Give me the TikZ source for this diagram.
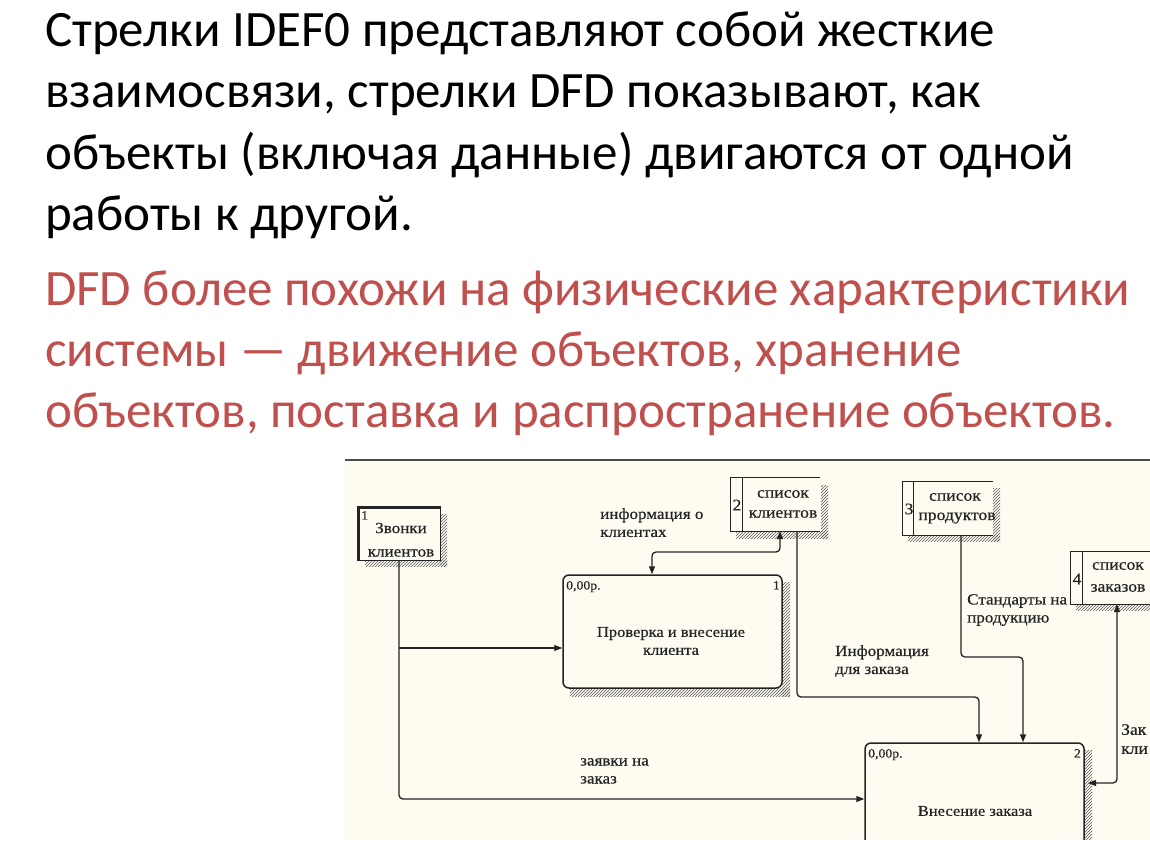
\documentclass[tikz,border=0pt]{standalone}
\usepackage{fontspec}
\setmainfont{Carlito}
\newfontfamily\dgm[FakeStretch=1.1,FakeBold=0.5]{Liberation Serif}
\usetikzlibrary{arrows.meta,patterns}
\definecolor{redtxt}{RGB}{192,80,77}
\definecolor{cream}{RGB}{254,251,241}
\definecolor{ink}{RGB}{35,35,35}
\tikzset{
  blackline/.style={anchor=base west, inner sep=0pt, font=\fontsize{51}{60}\selectfont, text=black},
  redline/.style={anchor=base west, inner sep=0pt, font=\fontsize{51}{60}\selectfont, text=redtxt},
  shade/.style={pattern=north east lines, pattern color=black!65},
  boxline/.style={draw=ink, line width=1.3pt},
  proc/.style={draw=ink, line width=1.5pt, rounded corners=6pt, fill=cream, inner sep=0pt},
  hold/.style={inner sep=0pt, minimum width=0pt, minimum height=0pt},
  dtext/.style={font=\dgm\fontsize{15.5}{18}\selectfont, text=ink, inner sep=0pt},
  stxt/.style={font=\dgm\fontsize{16}{18}\selectfont, text=ink, inner sep=0pt},
  small/.style={font=\dgm\fontsize{12.5}{14}\selectfont, text=ink, inner sep=0pt},
  lbl/.style={font=\dgm\fontsize{15.5}{18}\selectfont, text=ink, inner sep=0pt, align=left, anchor=north west},
  flow/.style={draw=ink, line width=1.3pt, rounded corners=4pt},
  tip/.style={-{Triangle[length=8pt,width=6pt]}},
  twotip/.style={{Triangle[length=8pt,width=6pt]}-{Triangle[length=8pt,width=6pt]}}
}
\begin{document}
\begin{tikzpicture}[x=1pt,y=-1pt]
\useasboundingbox (0,0) rectangle (1150,864);
\fill[white] (0,0) rectangle (1150,864);

% --- text ---
\node[blackline] (t1) at (45,47) {Стрелки IDEF0 представляют собой жесткие};
\node[blackline] (t2) at (45,108) {взаимосвязи, стрелки DFD показывают, как};
\node[blackline] (t3) at (45,169) {объекты (включая данные) двигаются от одной};
\node[blackline] (t4) at (45,230) {работы к другой.};
\node[redline] (r1) at (45,305) {DFD более похожи на физические характеристики};
\node[redline] (r2) at (45,366) {системы — движение объектов, хранение};
\node[redline] (r3) at (45,427) {объектов, поставка и распространение объектов.};

% --- diagram background ---
\fill[cream] (345,461) rectangle (1150,839);
\draw[draw=black!70, line width=2.2pt] (345,460) -- (1150,460);

\begin{scope}
\clip (345,461) rectangle (1150,839);

% external entity 1
\fill[shade] (440,514) rectangle (447,566);
\fill[shade] (365,560) rectangle (447,566);
\node[hold, fill=cream, draw=ink, line width=1pt, minimum width=81pt, minimum height=52pt] (e1) at (399.5,534) {};
\draw[ink, line width=3.2pt] (e1.south west) -- (e1.north west) -- (e1.north east);
\node[small, anchor=north west] (e1n) at (361,511) {1};
\node[dtext] (e1a) at (401,528) {Звонки};
\node[dtext] (e1b) at (401,553) {клиентов};

% data store 2
\fill[shade] (821,485) rectangle (828,538);
\fill[shade] (736,531) rectangle (828,538);
\node[hold, minimum width=89pt, minimum height=53pt] (s2) at (775.5,504.5) {};
\draw[boxline] (s2.north east) -- (s2.north west) -- (s2.south west) -- (s2.south east);
\draw[boxline] ([xshift=12pt]s2.north west) -- ([xshift=12pt]s2.south west);
\node[stxt] (s2n) at (737,505) {2};
\node[stxt] (s2a) at (783,494) {список};
\node[stxt] (s2b) at (783,514) {клиентов};

% data store 3
\fill[shade] (993,488) rectangle (1000,541);
\fill[shade] (908,535) rectangle (1000,541);
\node[hold, minimum width=90pt, minimum height=53pt] (s3) at (948,508.5) {};
\draw[boxline] (s3.north east) -- (s3.north west) -- (s3.south west) -- (s3.south east);
\draw[boxline] ([xshift=11pt]s3.north west) -- ([xshift=11pt]s3.south west);
\node[stxt] (s3n) at (909,509) {3};
\node[stxt] (s3a) at (955,497) {список};
\node[stxt] (s3b) at (957,518) {продуктов};

% data store 4
\fill[shade] (1076,604) rectangle (1150,610);
\node[hold, minimum width=90pt, minimum height=52pt] (s4) at (1116,578) {};
\draw[boxline] (s4.north east) -- (s4.north west) -- (s4.south west) -- (s4.south east);
\draw[boxline] ([xshift=12pt]s4.north west) -- ([xshift=12pt]s4.south west);
\node[stxt] (s4n) at (1077,579) {4};
\node[stxt] (s4a) at (1118,566) {список};
\node[stxt] (s4b) at (1118,588) {заказов};

% process 1
\fill[shade] (782,582) rectangle (790,696);
\fill[shade] (570,688) rectangle (790,696);
\node[proc, minimum width=219pt, minimum height=113pt] (p1) at (672.5,631.5) {};
\node[small, anchor=north west] (p1c) at (566,581) {0,00р.};
\node[small, anchor=north east] (p1n) at (780,581) {1};
\node[dtext, align=center, font=\dgm\fontsize{15}{18}\selectfont] (p1t) at (671,641) {Проверка и внесение\\клиента};

% process 2
\fill[shade] (1084,750) rectangle (1092,845);
\node[proc, minimum width=219pt, minimum height=160pt] (p2) at (974.5,823) {};
\node[small, anchor=north west] (p2c) at (868,749) {0,00р.};
\node[small, anchor=north east] (p2n) at (1081,749) {2};
\node[dtext, font=\dgm\fontsize{15}{18}\selectfont] (p2t) at (975,811) {Внесение заказа};

% --- flows ---
\coordinate (j1) at (399,648);
\draw[flow, tip] (e1.south -| j1) -- (399,799) -- (p2.west |- 0,799);
\draw[flow, tip] (j1) -- (p1.west |- j1);
\draw[flow, twotip] (780,531) -- (780,552) -- (652,552) -- (p1.north -| 652,0);
\draw[flow, tip] (797,531) -- (797,697) -- (979,697) -- (p2.north -| 979,0);
\draw[flow, tip] (961,535) -- (961,657) -- (1023,657) -- (p2.north -| 1023,0);
\draw[flow, twotip] (1088,783) -- (1117,783) -- (s4.south -| 1117,0);

% --- flow labels ---
\node[lbl] (l1) at (600,508) {информация о\\клиентах};
\node[lbl] (l2) at (835,645) {Информация\\для заказа};
\node[lbl] (l3) at (967,594) {Стандарты на\\продукцию};
\node[lbl] (l4) at (580,758) {заявки на\\заказ};
\node[lbl, font=\dgm\fontsize{16}{19}\selectfont] (l5) at (1121,724) {Зак\\кли};
\end{scope}
\end{tikzpicture}
\end{document}
